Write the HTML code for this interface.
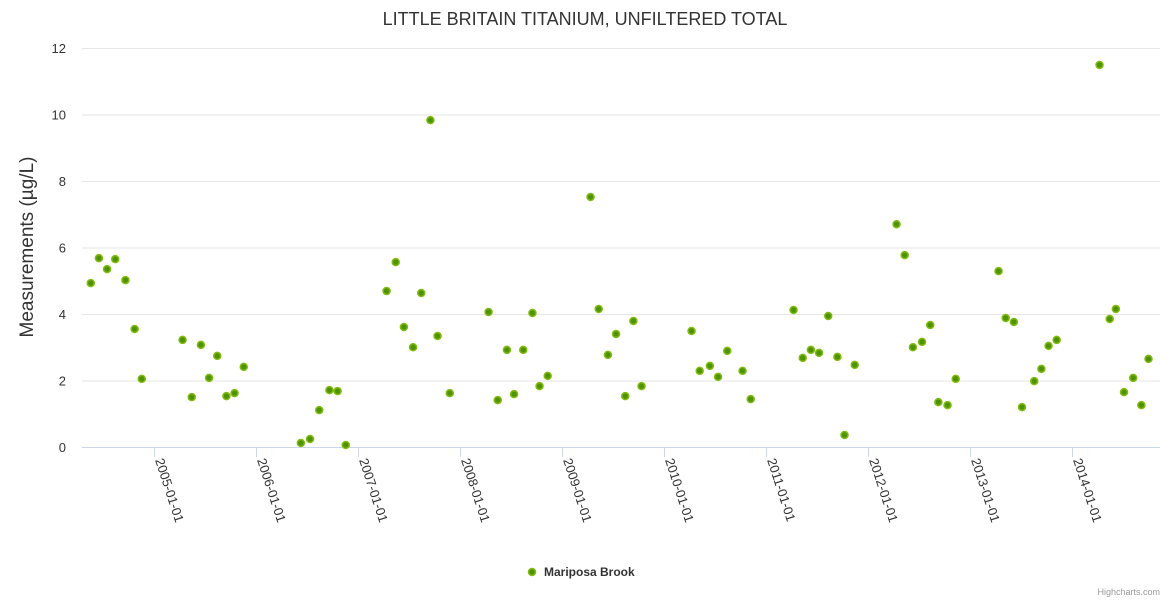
<!DOCTYPE html>
<html><head><meta charset="utf-8"><style>
body{margin:0;background:#fff;font-family:"Liberation Sans",sans-serif}
</style></head><body>
<svg id="chart" width="1170" height="600" xmlns="http://www.w3.org/2000/svg">
<rect width="1170" height="600" fill="#fff"/>
<text x="585" y="25" text-anchor="middle" font-size="18" fill="#333">LITTLE BRITAIN TITANIUM, UNFILTERED TOTAL</text>
<g id="grid"></g>
<text transform="translate(33,247) rotate(-90)" text-anchor="middle" font-size="19" fill="#333">Measurements (µg/L)</text>
<g id="xaxis"></g>
<g id="points"></g>
<g>
<circle cx="532" cy="572" r="3.5" fill="#4f9400" stroke="#80bb10" stroke-width="1.5"/>
<text x="544" y="576" font-size="12" font-weight="bold" fill="#333">Mariposa Brook</text>
</g>
<text x="1160" y="595" text-anchor="end" font-size="9" fill="#999">Highcharts.com</text>
</svg>
<script>
const yTicks=[0,2,4,6,8,10,12];
const xTickYears=[2005,2006,2007,2008,2009,2010,2011,2012,2013,2014];
const years=[2004.38,2004.46,2004.54,2004.62,2004.72,2004.81,2004.88,2005.28,2005.37,2005.46,2005.54,2005.62,2005.71,2005.79,2005.88,2006.44,2006.53,2006.62,2006.72,2006.80,2006.88,2007.28,2007.37,2007.45,2007.54,2007.62,2007.71,2007.78,2007.90,2008.28,2008.37,2008.46,2008.53,2008.62,2008.71,2008.78,2008.86,2009.28,2009.36,2009.45,2009.53,2009.62,2009.70,2009.78,2010.27,2010.35,2010.45,2010.53,2010.62,2010.77,2010.85,2011.27,2011.36,2011.44,2011.52,2011.61,2011.70,2011.77,2011.87,2012.28,2012.36,2012.44,2012.53,2012.61,2012.69,2012.78,2012.86,2013.28,2013.35,2013.43,2013.51,2013.63,2013.70,2013.77,2013.85,2014.27,2014.37,2014.43,2014.51,2014.60,2014.68,2014.75];
const values=[4.93,5.68,5.35,5.65,5.02,3.55,2.05,3.22,1.5,3.07,2.08,2.74,1.53,1.62,2.41,0.12,0.24,1.11,1.71,1.68,0.06,4.69,5.56,3.61,3.0,4.63,9.83,3.34,1.62,4.06,1.41,2.92,1.59,2.92,4.03,1.83,2.14,7.52,4.15,2.77,3.4,1.53,3.79,1.83,3.49,2.29,2.44,2.11,2.89,2.29,1.44,4.12,2.68,2.92,2.83,3.94,2.71,0.36,2.47,6.7,5.77,3.0,3.16,3.67,1.35,1.26,2.05,5.29,3.88,3.76,1.2,1.98,2.35,3.04,3.22,11.49,3.85,4.15,1.65,2.08,1.26,2.65];
const NS="http://www.w3.org/2000/svg";
const L=82,R=1160,Y0=447,Y12=48;
function ys(v){return Y0-(v/12)*(Y0-Y12);}
function xs(yr){return 154+(yr-2005)*102;}
const grid=document.getElementById('grid');
yTicks.forEach(t=>{
 const ln=document.createElementNS(NS,'line');
 ln.setAttribute('x1',L);ln.setAttribute('x2',R);ln.setAttribute('y1',ys(t)+0.5);ln.setAttribute('y2',ys(t)+0.5);
 ln.setAttribute('stroke',t===0?'#ccd6eb':'#e6e6e6');
 
 
 grid.appendChild(ln);
 const tx=document.createElementNS(NS,'text');
 tx.setAttribute('x',66);tx.setAttribute('y',ys(t)+5);tx.setAttribute('text-anchor','end');
 tx.setAttribute('font-size','13');tx.setAttribute('fill','#333');tx.textContent=t;
 
 
 grid.appendChild(tx);
});
const xa=document.getElementById('xaxis');
xTickYears.forEach(y=>{
 const x=xs(y);
 const tk=document.createElementNS(NS,'line');
 tk.setAttribute('x1',x+0.5);tk.setAttribute('x2',x+0.5);tk.setAttribute('y1',Y0);tk.setAttribute('y2',Y0+10);
 tk.setAttribute('stroke','#ccd6eb');
 
 
 xa.appendChild(tk);
 const tx=document.createElementNS(NS,'text');
 tx.setAttribute('transform','translate('+(x+1)+','+(Y0+13)+') rotate(72)');
 tx.setAttribute('font-size','13');tx.setAttribute('fill','#333');
 tx.textContent=y+'-01-01';
 
 
 xa.appendChild(tx);
});
const pts=document.getElementById('points');
years.forEach((yr,i)=>{
 const c=document.createElementNS(NS,'circle');
 c.setAttribute('cx',xs(yr));c.setAttribute('cy',ys(values[i]));c.setAttribute('r',3.5);
 c.setAttribute('fill','#4f9400');c.setAttribute('stroke','#80bb10');c.setAttribute('stroke-width','1.5');
 
 
 pts.appendChild(c);
});
</script>
</body></html>
